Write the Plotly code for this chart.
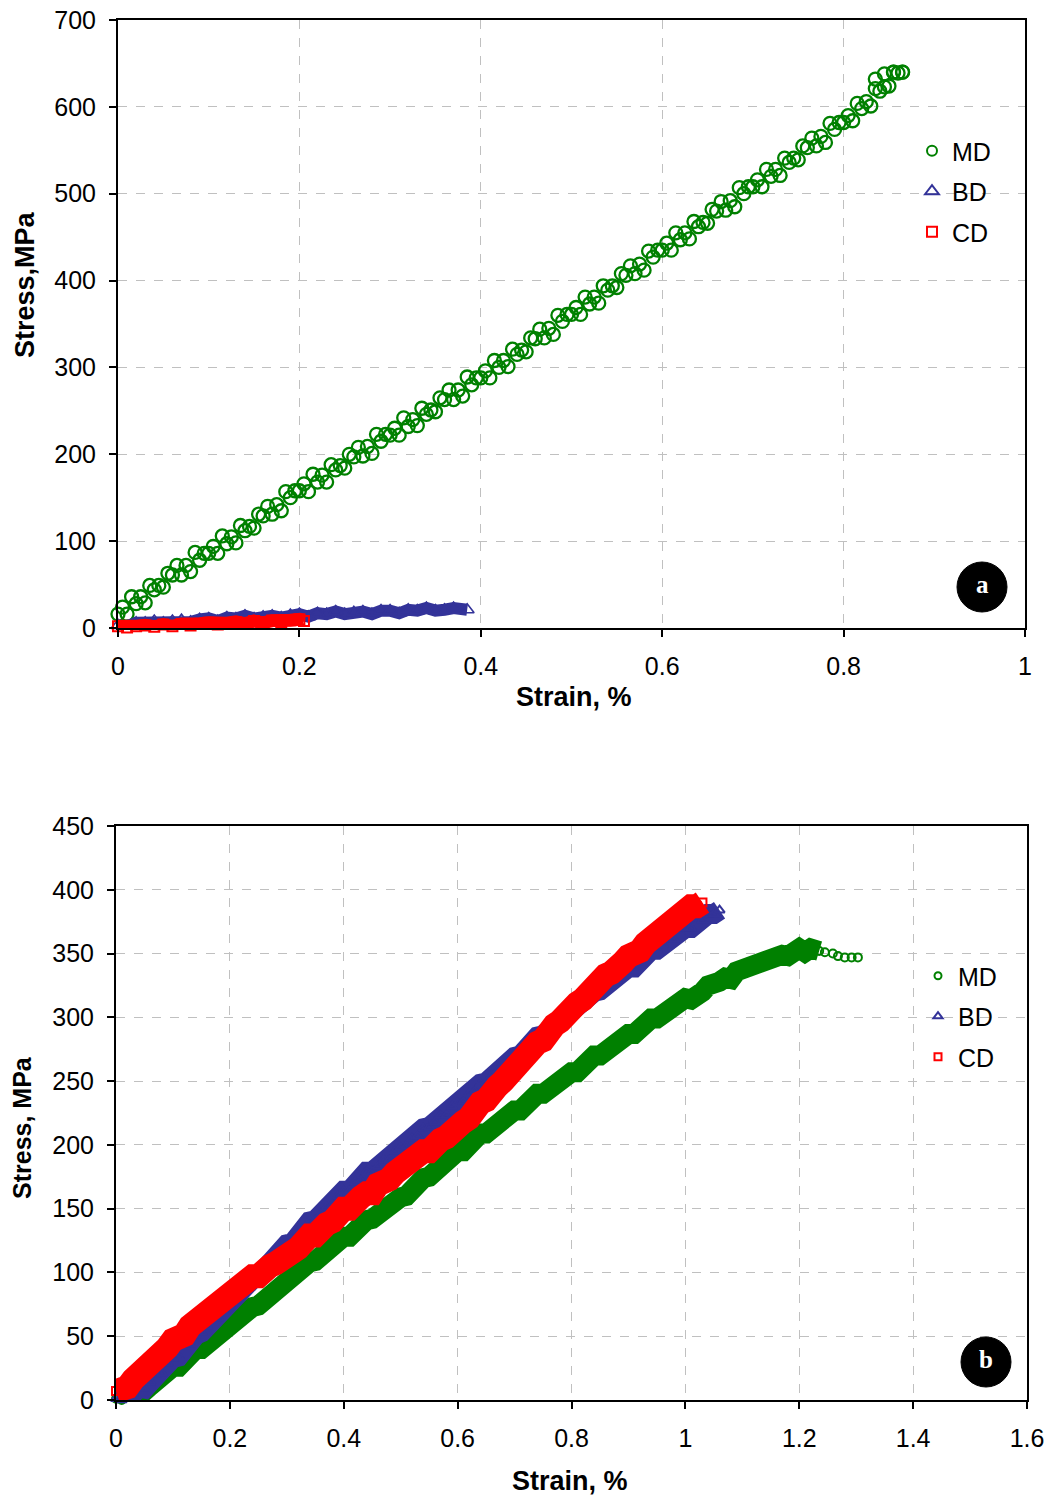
import plotly.graph_objects as go

# ---------------- data ----------------
GRID = [0.00, 0.01, 0.02, 0.03, 0.04, 0.05, 0.06, 0.07, 0.08, 0.09,
        0.10, 0.11, 0.12, 0.13, 0.14, 0.15, 0.16, 0.17, 0.18, 0.19,
        0.20, 0.21, 0.22, 0.23, 0.24, 0.25, 0.26, 0.27, 0.28, 0.29,
        0.30, 0.31, 0.32, 0.33, 0.34, 0.35, 0.36, 0.37, 0.38, 0.39,
        0.40, 0.41, 0.42, 0.43, 0.44, 0.45, 0.46, 0.47, 0.48, 0.49,
        0.50, 0.51, 0.52, 0.53, 0.54, 0.55, 0.56, 0.57, 0.58, 0.59,
        0.60, 0.61, 0.62, 0.63, 0.64, 0.65, 0.66, 0.67, 0.68, 0.69,
        0.70, 0.71, 0.72, 0.73, 0.74, 0.75, 0.76, 0.77, 0.78, 0.79,
        0.80, 0.81, 0.82, 0.83, 0.84, 0.85, 0.86, 0.87, 0.88, 0.89,
        0.90, 0.91, 0.92, 0.93, 0.94, 0.95, 0.96, 0.97, 0.98, 0.99,
        1.00, 1.01, 1.02, 1.03, 1.04, 1.05, 1.06, 1.07, 1.08, 1.09,
        1.10, 1.11, 1.12, 1.13, 1.14, 1.15, 1.16, 1.17, 1.18, 1.19,
        1.20, 1.21, 1.22]

HALF_GRID = [0.005, 0.015, 0.025, 0.035, 0.045, 0.055, 0.065, 0.075, 0.085, 0.095,
             0.105, 0.115, 0.125, 0.135, 0.145, 0.155, 0.165, 0.175, 0.185, 0.195,
             0.205, 0.215, 0.225, 0.235, 0.245, 0.255, 0.265, 0.275, 0.285, 0.295,
             0.305, 0.315, 0.325, 0.335, 0.345, 0.355, 0.365, 0.375, 0.385, 0.395,
             0.405, 0.415, 0.425, 0.435, 0.445, 0.455, 0.465, 0.475, 0.485, 0.495,
             0.505, 0.515, 0.525, 0.535, 0.545, 0.555, 0.565, 0.575, 0.585, 0.595,
             0.605, 0.615, 0.625, 0.635, 0.645, 0.655, 0.665, 0.675, 0.685, 0.695,
             0.705, 0.715, 0.725, 0.735, 0.745, 0.755, 0.765, 0.775, 0.785, 0.795,
             0.805, 0.815, 0.825, 0.835, 0.845, 0.855, 0.865]

# (a) top panel -- MD scatter read as a lower and an upper cloud of points
a_md_strain = GRID[:87] + [0.835, 0.845, 0.855, 0.865]
a_md_stress = [16, 16, 28, 29, 44, 47, 61, 61, 65, 78,
               86, 86, 97, 98, 112, 115, 129, 131, 135, 150,
               158, 157, 168, 168, 182, 184, 197, 198, 201, 215,
               222, 222, 232, 233, 246, 249, 263, 263, 267, 280,
               288, 288, 300, 301, 315, 318, 333, 334, 338, 353,
               361, 361, 373, 374, 389, 392, 406, 408, 412, 427,
               435, 435, 447, 448, 462, 466, 480, 481, 485, 500,
               508, 508, 520, 521, 536, 539, 553, 555, 559, 574,
               582, 584, 598, 601, 618, 624, 639] + [632, 638, 640, 640]
a_md_strain_2 = HALF_GRID
a_md_stress_2 = [24, 36, 36, 49, 49, 63, 72, 72, 87, 86,
                 94, 106, 105, 118, 117, 131, 140, 142, 157, 158,
                 166, 177, 176, 188, 187, 200, 208, 209, 223, 223,
                 230, 242, 240, 253, 251, 265, 274, 274, 289, 288,
                 296, 308, 308, 321, 320, 334, 344, 345, 360, 361,
                 369, 381, 381, 394, 394, 408, 417, 419, 434, 435,
                 443, 455, 455, 468, 467, 482, 491, 492, 507, 508,
                 516, 528, 528, 541, 541, 555, 564, 566, 581, 582,
                 590, 604, 606, 621, 623, 640, 640]

a_bd_strain = GRID[:38] + [0.385]
a_bd_stress = [3, 2, 6, 6, 8, 6, 8, 9, 7, 10,
               11, 8, 12, 11, 14, 11, 13, 14, 12, 15,
               16, 13, 17, 16, 19, 16, 18, 19, 16, 20,
               20, 17, 21, 20, 23, 20, 21, 23, 21]

a_cd_strain = GRID[:21] + [0.205]
a_cd_stress = [2, 0.5, 2, 3, 1.5, 4, 2, 4.5, 3, 5,
               6, 4, 5.5, 7, 5, 8, 6, 8.5, 7, 9, 10, 8]

# (b) bottom panel
b_md_strain = GRID[:123] + [1.235, 1.245, 1.259, 1.268, 1.28, 1.292, 1.303]
b_md_stress = [1, 0, 4, 3, 8, 7, 11, 16, 16, 23,
               26, 26, 32, 34, 40, 40, 44, 48, 49, 55,
               58, 59, 65, 67, 73, 74, 78, 83, 83, 90,
               93, 94, 100, 102, 108, 109, 113, 118, 118, 125,
               128, 128, 134, 135, 141, 142, 146, 150, 150, 156,
               159, 160, 166, 168, 174, 175, 180, 184, 185, 191,
               195, 195, 201, 203, 209, 209, 213, 217, 218, 224,
               227, 227, 233, 234, 240, 240, 244, 248, 248, 254,
               257, 257, 263, 264, 270, 270, 274, 278, 278, 284,
               287, 287, 293, 293, 299, 299, 303, 307, 306, 312,
               315, 314, 320, 320, 325, 325, 328, 331, 330, 336,
               338, 337, 341, 341, 345, 344, 347, 349, 348, 352,
               354, 351, 354] + [352, 351, 350, 348, 347, 347, 347]
B_MD_BAND_END = 124  # dense band, the last few points are loose

b_bd_strain = GRID[:107]
b_bd_stress = [1, 0, 5, 5, 10, 9, 14, 20, 21, 29,
               33, 34, 42, 44, 51, 53, 58, 63, 64, 72,
               76, 78, 85, 88, 95, 97, 103, 108, 110, 117,
               122, 123, 130, 133, 140, 141, 146, 151, 153, 160,
               164, 164, 171, 172, 179, 179, 183, 188, 188, 195,
               198, 199, 205, 207, 213, 214, 218, 223, 223, 230,
               233, 234, 240, 242, 248, 249, 254, 258, 259, 265,
               269, 270, 276, 278, 285, 286, 290, 295, 296, 302,
               306, 306, 313, 314, 320, 321, 325, 329, 329, 336,
               339, 339, 345, 347, 353, 353, 357, 361, 361, 367,
               370, 370, 375, 376, 381, 381, 384]

b_cd_strain = GRID[:104]
b_cd_stress = [7, 7, 10, 16, 20, 20, 29, 31, 35, 41,
               47, 48, 51, 58, 62, 63, 70, 72, 75, 81,
               86, 86, 88, 94, 97, 97, 104, 105, 107, 112,
               116, 116, 119, 125, 129, 129, 136, 138, 140, 146,
               150, 150, 152, 159, 162, 162, 169, 170, 173, 178,
               182, 182, 185, 191, 195, 195, 202, 204, 206, 212,
               216, 218, 221, 229, 233, 235, 244, 246, 250, 256,
               262, 264, 268, 275, 280, 282, 291, 294, 297, 304,
               310, 311, 314, 320, 324, 325, 333, 335, 337, 343,
               348, 349, 352, 358, 362, 363, 371, 373, 377, 383,
               388, 387, 387, 390]

SERIES = ["MD", "BD", "CD"]

# ---------------- styling ----------------
GREEN = "#008000"
BLUE = "#333399"
RED = "#FF0000"
FONT = "Liberation Sans, Arial, sans-serif"
OFF = 8                      # page body margin
W, H = 1052 - OFF, 1496 - OFF


def px(x):
    return (x - OFF) / W


def py(y):
    return 1 - (y - OFF) / H


fig = go.Figure()


def add(x, y, xa, ya, symbol, color, size, lw, band=0):
    fig.add_trace(go.Scatter(
        x=x, y=y, mode="lines+markers" if band else "markers", xaxis=xa, yaxis=ya,
        showlegend=False, cliponaxis=False, hoverinfo="skip",
        line=dict(color=color, width=band) if band else None,
        marker=dict(symbol=symbol, size=size, color=color,
                    line=dict(color=color, width=lw))))


# panel a
add(a_md_strain, a_md_stress, "x", "y", "circle-open", GREEN, 13, 2.3)
add(a_md_strain_2, a_md_stress_2, "x", "y", "circle-open", GREEN, 13, 2.3)
add(a_bd_strain, a_bd_stress, "x", "y", "triangle-up-open", BLUE, 12, 1.6, band=12)
add(a_cd_strain, a_cd_stress, "x", "y", "square-open", RED, 10, 2, band=13)
# panel b
add(b_md_strain[:B_MD_BAND_END], b_md_stress[:B_MD_BAND_END], "x2", "y2", "circle-open", GREEN, 8, 2, band=20)
add(b_md_strain[B_MD_BAND_END:], b_md_stress[B_MD_BAND_END:], "x2", "y2", "circle-open", GREEN, 8, 2)
add(b_bd_strain, b_bd_stress, "x2", "y2", "triangle-up-open", BLUE, 9, 2, band=20)
add(b_cd_strain, b_cd_stress, "x2", "y2", "square-open", RED, 8, 2, band=24)

# legend entries
sym = ["circle-open", "triangle-up-open", "square-open"]
cols = [GREEN, BLUE, RED]
sz_a = [10, 12, 10]
sz_b = [7, 8, 7]
for i, name in enumerate(SERIES):
    fig.add_trace(go.Scatter(
        x=[None], y=[None], mode="markers", name=name, xaxis="x", yaxis="y",
        legend="legend", legendgroup="a" + name,
        marker=dict(symbol=sym[i], size=sz_a[i], color=cols[i], line=dict(color=cols[i], width=2))))
for i, name in enumerate(SERIES):
    fig.add_trace(go.Scatter(
        x=[None], y=[None], mode="markers", name=name, xaxis="x2", yaxis="y2",
        legend="legend2", legendgroup="b" + name,
        marker=dict(symbol=sym[i], size=sz_b[i], color=cols[i], line=dict(color=cols[i], width=2))))

axis_common = dict(
    showgrid=True, gridcolor="#c0c0c0", griddash="dash", gridwidth=1,
    showline=True, linecolor="black", linewidth=2, mirror=True,
    ticks="outside", ticklen=7, tickcolor="black", tickwidth=1.5,
    ticklabelstandoff=8, ticklabeloverflow="allow",
    zeroline=False, automargin=False,
    tickfont=dict(family=FONT, size=25, color="black"),
)

fig.update_layout(
    width=W, height=H,
    margin=dict(l=0, r=0, t=0, b=0),
    paper_bgcolor="white", plot_bgcolor="white",
    font=dict(family=FONT, color="black"),
    xaxis=dict(domain=[px(118), px(1025)], range=[0, 1], dtick=0.2, anchor="y", **axis_common),
    yaxis=dict(domain=[py(628), py(20)], range=[0, 700], dtick=100, anchor="x", **axis_common),
    xaxis2=dict(domain=[px(116), px(1027)], range=[0, 1.6], dtick=0.2, anchor="y2", **axis_common),
    yaxis2=dict(domain=[py(1400), py(826)], range=[0, 450], dtick=50, anchor="x2", **axis_common),
    legend=dict(x=px(912), y=py(128), xanchor="left", yanchor="top",
                font=dict(family=FONT, size=25, color="black"),
                bgcolor="rgba(0,0,0,0)", tracegroupgap=5, itemsizing="trace"),
    legend2=dict(x=px(918), y=py(953), xanchor="left", yanchor="top",
                 font=dict(family=FONT, size=25, color="black"),
                 bgcolor="rgba(0,0,0,0)", tracegroupgap=5, itemsizing="trace"),
    showlegend=True,
)

# axis titles
for txt, x, y, ang, fs in [("<b>Stress,MPa</b>", 25, 285, -90, 27),
                           ("<b>Strain, %</b>", 574, 697, 0, 27),
                           ("<b>Stress, MPa</b>", 22, 1128, -90, 25),
                           ("<b>Strain, %</b>", 570, 1481, 0, 27)]:
    fig.add_annotation(text=txt, x=px(x), y=py(y), xref="paper", yref="paper",
                       xanchor="center", yanchor="middle",
                       textangle=ang, showarrow=False,
                       font=dict(family=FONT, size=fs, color="black"))

# panel labels in black discs
for cx, cy, lab, dy in [(982, 587, "a", -2), (986, 1362, "b", -3)]:
    fig.add_shape(type="circle", xref="paper", yref="paper",
                  x0=px(cx - 25), x1=px(cx + 25), y0=py(cy + 25), y1=py(cy - 25),
                  fillcolor="black", line=dict(color="black", width=1))
    fig.add_annotation(text="<b>" + lab + "</b>", x=px(cx), y=py(cy + dy), xref="paper", yref="paper",
                       xanchor="center", yanchor="middle",
                       showarrow=False, font=dict(family="Liberation Serif, Times New Roman, serif",
                                                  size=25, color="white"))

fig.write_html("out.html")
